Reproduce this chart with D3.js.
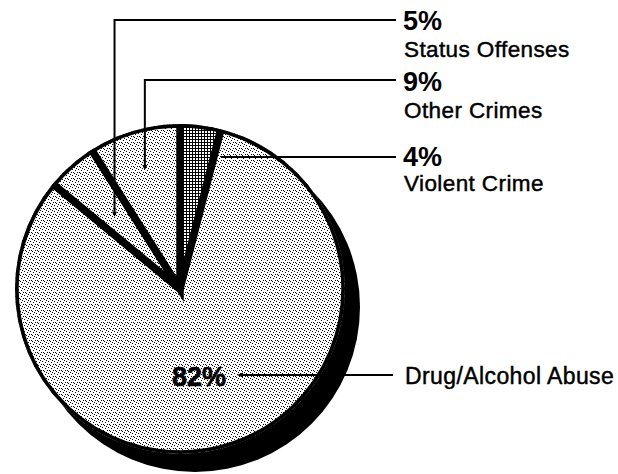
<!DOCTYPE html>
<html><head><meta charset="utf-8">
<script src="https://cdn.jsdelivr.net/npm/d3@7"></script>
<style>
body{margin:0;background:#fff}
svg{display:block}
text{font-family:"Liberation Sans",Arial,Helvetica,sans-serif;fill:#000}
text.name{stroke:#000;stroke-width:0.45px;letter-spacing:0.4px}
</style>
</head><body>
<svg id="c" width="618" height="474"></svg>
<script>
// ---- data ----
const categories = ["Violent Crime", "Drug/Alcohol Abuse", "Status Offenses", "Other Crimes"];
const values = [4, 82, 5, 9];
const percentLabels = values.map(v => v + "%");

// ---- layout (not data) ----
const W = 618, H = 474, cx = 180, cy = 289, R = 165;
const shadowOffset = [15, 18];
const lineEndX = 396, textX = 403;
// per category: leader style, horizontal line y, percent baseline, name baseline, anchor radius
const leaderType = ["edge", "inside", "elbow", "elbow"];
const leaderY = [157, 375, 20, 80];
const pctY = [166, 386, 30, 91];
const nameY = [191, 384, 57, 118];
const anchorR = [0, 0, 99, 126];

const svg = d3.select("#c");
const defs = svg.append("defs");

// stipple pattern
const st = defs.append("pattern").attr("id", "stipple")
  .attr("patternUnits", "userSpaceOnUse").attr("width", 6).attr("height", 6);
st.append("rect").attr("width", 6).attr("height", 6).attr("fill", "#fff");
[[0,0],[3,1],[5,3],[1,3],[4,5],[2,4]].forEach(p =>
  st.append("rect").attr("x", p[0]).attr("y", p[1]).attr("width", 1).attr("height", 1).attr("fill", "#000"));

// crosshatch pattern
const hp = defs.append("pattern").attr("id", "hatch")
  .attr("patternUnits", "userSpaceOnUse").attr("width", 3).attr("height", 3);
hp.append("rect").attr("width", 3).attr("height", 3).attr("fill", "#fff");
hp.append("rect").attr("x", 0).attr("y", 0).attr("width", 1).attr("height", 3).attr("fill", "#000");
hp.append("rect").attr("x", 0).attr("y", 0).attr("width", 3).attr("height", 1).attr("fill", "#000");

defs.append("clipPath").attr("id", "pieclip")
  .append("circle").attr("cx", 0).attr("cy", 0).attr("r", R);

const pie = d3.pie().sort(null).value(d => d);
const arcs = pie(values);
const arc = d3.arc().innerRadius(0).outerRadius(R);

const g = svg.append("g").attr("transform", `translate(${cx},${cy})`);

// shadow
g.append("circle").attr("cx", shadowOffset[0]).attr("cy", shadowOffset[1]).attr("r", R).attr("fill", "#000");

// slices
const gs = g.append("g").attr("clip-path", "url(#pieclip)");
gs.append("circle").attr("r", R).attr("fill", "#000");
gs.selectAll("path.slice").data(arcs).join("path")
  .attr("class", "slice")
  .attr("d", arc)
  .attr("fill", (d, i) => i === 0 ? "url(#hatch)" : "url(#stipple)")
  .attr("stroke", "#000")
  .attr("stroke-width", 7.5)
  .attr("stroke-linejoin", "miter");

// leaders and labels
const lg = svg.append("g");
arcs.forEach((d, i) => {
  const type = leaderType[i];
  const y = leaderY[i];
  if (type === "elbow") {
    const c = d3.arc().innerRadius(anchorR[i]).outerRadius(anchorR[i]).centroid(d);
    const ax = cx + c[0], ay = cy + c[1];
    lg.append("path")
      .attr("d", d3.line()([[ax, ay], [ax, y], [lineEndX, y]]))
      .attr("fill", "none").attr("stroke", "#000").attr("stroke-width", 2);
    lg.append("path")
      .attr("d", d3.line()([[ax - 2.5, ay - 3], [ax + 2.5, ay - 3], [ax, ay + 2]]) + "Z")
      .attr("fill", "#000");
  } else if (type === "edge") {
    // start at the right edge of the slice at this height
    const x0 = cx + (cy - y) * Math.tan(d.endAngle) + 7;
    lg.append("line").attr("x1", x0).attr("y1", y).attr("x2", lineEndX).attr("y2", y)
      .attr("stroke", "#000").attr("stroke-width", 2);
  } else {
    // label inside the slice
    lg.append("text").attr("x", 172).attr("y", pctY[i])
      .attr("font-size", 27).attr("font-weight", "bold")
      .attr("stroke", "#000").attr("stroke-width", 0.6).text(percentLabels[i]);
    lg.append("line").attr("x1", 240).attr("y1", y).attr("x2", lineEndX - 3).attr("y2", y)
      .attr("stroke", "#000").attr("stroke-width", 2);
    lg.append("path")
      .attr("d", d3.line()([[237, y], [243, y - 2.5], [243, y + 2.5]]) + "Z")
      .attr("fill", "#000");
    lg.append("text").attr("class", "name").attr("x", textX + 2).attr("y", nameY[i])
      .attr("font-size", 23).text(categories[i]);
    return;
  }
  lg.append("text").attr("x", textX).attr("y", pctY[i])
    .attr("font-size", 27).attr("font-weight", "bold").text(percentLabels[i]);
  lg.append("text").attr("class", "name").attr("x", textX + 1).attr("y", nameY[i])
    .attr("font-size", 22.5).text(categories[i]);
});
</script>
</body></html>
